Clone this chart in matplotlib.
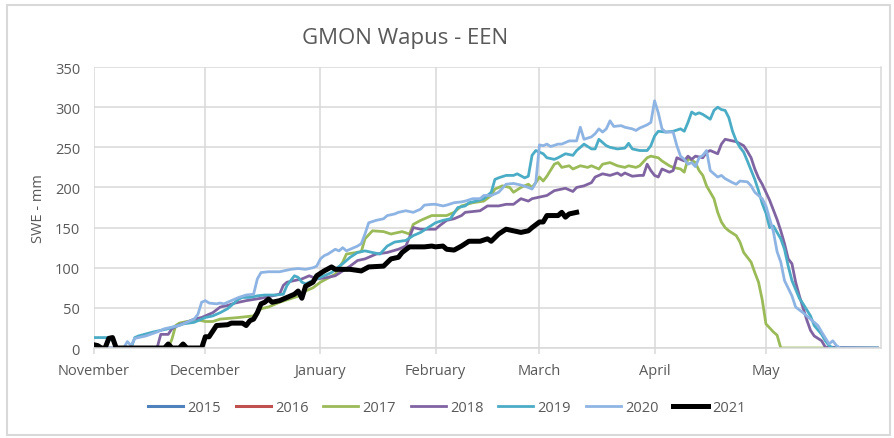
import matplotlib
matplotlib.use("Agg")
import matplotlib.pyplot as plt
from matplotlib import font_manager
from matplotlib.patches import Rectangle

# Season axis: day 0 = 1 November, day 212 = 1 June
month_days = [0, 30, 61, 92, 120, 151, 181]
month_labels = ["November", "December", "January", "February", "March", "April", "May"]
season_end = 212

years = ["2015", "2016", "2017", "2018", "2019", "2020", "2021"]

# 2015 and 2016 have no data at this site (legend only)
days_2015, swe_2015 = [], []
days_2016, swe_2016 = [], []

days_2017 = [0, 20, 21, 22, 23, 25, 28, 30, 32, 34, 39, 43, 45, 47, 50, 54, 56, 57, 59, 61,
             63, 65, 66, 67, 68, 72, 73, 75, 78, 80, 83, 85, 86, 88, 91, 95, 97, 99, 102, 105,
             107, 108, 110, 112, 113, 115, 117, 118, 119, 120, 121, 122, 124, 125, 126, 128, 129, 131, 133, 134,
             136, 137, 139, 141, 143, 144, 146, 147, 149, 150, 152, 153, 155, 156, 158, 159, 160, 161, 162, 163,
             164, 165, 167, 168, 169, 170, 171, 173, 174, 175, 177, 178, 179, 180, 181, 183, 184, 185, 211]
swe_2017 = [0, 0, 11, 28, 31, 33, 35, 33, 33, 36, 38, 40, 49, 51, 57, 63, 66, 71, 75, 82,
            87, 92, 100, 107, 117, 120, 136, 146, 145, 142, 145, 142, 154, 159, 165, 165, 169, 177, 181, 183,
            190, 198, 202, 200, 194, 200, 204, 200, 206, 213, 208, 214, 229, 231, 225, 227, 223, 227, 225, 227,
            223, 229, 231, 227, 225, 227, 225, 227, 237, 239, 237, 233, 227, 225, 223, 219, 236, 234, 231, 221,
            215, 202, 186, 169, 157, 150, 146, 140, 132, 119, 107, 94, 82, 60, 30, 20, 16, 0, 0]

days_2018 = [0, 17, 18, 20, 21, 23, 25, 27, 29, 30, 32, 34, 36, 38, 41, 45, 48, 50, 51, 52,
             56, 58, 60, 63, 65, 67, 69, 71, 73, 74, 76, 79, 82, 84, 85, 86, 88, 92, 93, 95,
             97, 99, 100, 104, 106, 109, 111, 113, 115, 117, 118, 120, 122, 124, 125, 127, 129, 130, 132, 134,
             135, 137, 139, 141, 142, 143, 145, 147, 148, 149, 150, 151, 152, 153, 155, 156, 157, 159, 160, 161,
             162, 164, 165, 166, 168, 169, 170, 172, 173, 175, 176, 177, 178, 179, 180, 181, 182, 183, 184, 185,
             186, 187, 188, 189, 190, 191, 192, 193, 194, 196, 197, 211]
swe_2018 = [0, 0, 17, 17, 24, 29, 32, 36, 38, 40, 44, 51, 53, 56, 59, 62, 65, 67, 78, 82,
            86, 90, 86, 88, 90, 96, 102, 109, 111, 113, 117, 119, 123, 127, 138, 150, 148, 148, 152, 159,
            161, 165, 169, 171, 177, 177, 179, 179, 186, 183, 186, 188, 190, 196, 197, 199, 195, 200, 202, 206,
            213, 217, 215, 218, 215, 218, 214, 215, 215, 229, 221, 215, 213, 223, 219, 221, 237, 233, 239, 235,
            239, 237, 244, 246, 242, 254, 260, 258, 257, 252, 245, 237, 223, 212, 204, 194, 184, 172, 160, 146,
            130, 111, 105, 82, 65, 50, 35, 22, 15, 9, 1, 0]

days_2019 = [0, 4, 5, 6, 10, 11, 12, 16, 20, 24, 27, 29, 30, 32, 34, 36, 37, 38, 39, 40,
             42, 44, 46, 49, 51, 52, 54, 55, 56, 57, 59, 61, 62, 64, 65, 67, 69, 71, 73, 75,
             77, 79, 81, 84, 86, 88, 90, 92, 94, 96, 98, 100, 101, 103, 105, 106, 107, 108, 109, 111,
             113, 114, 116, 117, 118, 119, 121, 122, 124, 125, 127, 129, 130, 132, 134, 135, 136, 138, 139, 141,
             143, 144, 145, 147, 149, 150, 151, 152, 154, 156, 158, 159, 160, 161, 162, 163, 164, 166, 167, 168,
             169, 170, 171, 172, 173, 174, 175, 176, 178, 179, 180, 181, 182, 183, 185, 186, 187, 188, 190, 191,
             193, 194, 196, 197, 198, 199, 211]
swe_2019 = [13, 13, 10, 0, 0, 13, 15, 20, 24, 30, 32, 36, 38, 40, 44, 49, 53, 57, 61, 63,
            63, 65, 66, 66, 67, 78, 90, 88, 82, 80, 84, 88, 90, 94, 98, 105, 113, 119, 121, 119,
            117, 127, 132, 134, 140, 144, 150, 156, 159, 161, 175, 177, 181, 183, 186, 190, 194, 210, 212, 215,
            215, 217, 212, 214, 240, 246, 242, 237, 235, 237, 242, 240, 246, 254, 248, 248, 260, 252, 250, 248,
            249, 255, 248, 246, 246, 252, 264, 270, 269, 270, 273, 270, 281, 294, 291, 293, 291, 285, 296, 300,
            297, 296, 287, 270, 258, 250, 244, 233, 210, 196, 180, 168, 150, 152, 136, 123, 102, 84, 62, 55,
            40, 28, 17, 9, 3, 0, 0]

days_2020 = [0, 8, 9, 10, 11, 14, 17, 19, 21, 23, 25, 27, 28, 29, 30, 31, 33, 34, 35, 37,
             38, 39, 41, 43, 44, 45, 47, 50, 51, 53, 55, 57, 59, 60, 61, 62, 63, 65, 66, 67,
             68, 70, 71, 72, 73, 74, 76, 78, 79, 81, 82, 84, 86, 88, 89, 91, 92, 94, 95, 97,
             99, 100, 102, 104, 105, 107, 109, 111, 113, 115, 117, 118, 119, 120, 121, 122, 123, 125, 126, 128,
             130, 131, 132, 134, 135, 136, 137, 138, 139, 140, 142, 143, 145, 146, 147, 149, 150, 151, 152, 153,
             154, 156, 157, 158, 159, 160, 161, 162, 163, 164, 165, 166, 168, 169, 170, 172, 173, 174, 176, 177,
             178, 180, 181, 182, 183, 184, 185, 186, 188, 189, 191, 193, 195, 196, 198, 199, 200, 201, 211]
swe_2020 = [0, 0, 8, 3, 12, 15, 20, 24, 26, 28, 32, 36, 42, 57, 59, 56, 55, 56, 55, 59,
            61, 63, 66, 67, 86, 94, 95, 95, 96, 98, 99, 98, 100, 102, 111, 115, 117, 123, 121, 125,
            121, 125, 127, 130, 142, 156, 159, 161, 165, 167, 169, 171, 169, 173, 178, 179, 179, 177, 178, 181,
            182, 183, 186, 186, 190, 190, 194, 204, 205, 203, 200, 198, 206, 253, 252, 254, 251, 254, 254, 258,
            258, 275, 260, 263, 267, 273, 269, 273, 283, 276, 277, 275, 273, 271, 274, 278, 281, 308, 293, 273,
            269, 269, 252, 239, 235, 229, 231, 226, 237, 240, 246, 221, 213, 215, 211, 206, 204, 208, 207, 202,
            194, 186, 177, 161, 145, 120, 107, 84, 65, 51, 44, 36, 28, 20, 5, 9, 3, 0, 0]

days_2021 = [0, 1, 2, 3, 4, 5, 6, 19, 20, 21, 23, 24, 25, 29, 30, 31, 32, 33, 36, 37,
             40, 41, 42, 43, 44, 45, 46, 47, 48, 50, 52, 54, 55, 56, 57, 59, 60, 62, 64, 65,
             69, 72, 74, 78, 80, 82, 83, 85, 89, 91, 92, 94, 95, 97, 99, 101, 104, 106, 107, 109,
             111, 113, 115, 117, 118, 120, 121, 122, 125, 126, 127, 128, 130]
swe_2021 = [4, 3, 0, 0, 12, 13, 0, 0, 5, 0, 0, 5, 0, 0, 14, 14, 21, 28, 29, 31,
            31, 28, 34, 36, 44, 55, 57, 61, 57, 59, 63, 67, 71, 62, 77, 82, 90, 96, 101, 98,
            98, 96, 101, 102, 111, 113, 119, 126, 126, 127, 126, 127, 123, 122, 127, 133, 133, 136, 133, 142,
            148, 146, 144, 146, 150, 157, 157, 165, 165, 169, 163, 167, 169]

series_days = [days_2015, days_2016, days_2017, days_2018, days_2019, days_2020, days_2021]
series_swe = [swe_2015, swe_2016, swe_2017, swe_2018, swe_2019, swe_2020, swe_2021]
colors = ["#4F81BD", "#C0504D", "#9BBB59", "#8064A2", "#4BACC6", "#8EB4E3", "#000000"]
widths = [2.2, 2.2, 2.0, 2.0, 2.0, 2.0, 3.6]

names = {f.name for f in font_manager.fontManager.ttflist}
FONT = next((f for f in ["Liberation Sans Narrow", "Open Sans", "DejaVu Sans"] if f in names), "DejaVu Sans")
plt.rcParams["font.family"] = FONT

TXT = "#595959"
GRID = "#D9D9D9"

fig = plt.figure(figsize=(8.94, 4.39), dpi=100)
fig.patches.append(Rectangle((0.008, 0.007), 0.988, 0.98, transform=fig.transFigure,
                             fill=False, edgecolor=GRID, linewidth=1.5))

ax = fig.add_axes([0.1051, 0.205, 0.8804, 0.640])

for yr, d, v, c, w in zip(years, series_days, series_swe, colors, widths):
    ax.plot(d, v, color=c, linewidth=w, label=yr, solid_joinstyle="round")

ax.set_xlim(0, season_end)
ax.set_ylim(0, 350)
ax.set_yticks(range(0, 351, 50))
ax.set_xticks(month_days)
ax.set_xticklabels(month_labels)
ax.grid(True, color=GRID, linewidth=1.1)
ax.set_axisbelow(True)

for side in ["top", "left"]:
    ax.spines[side].set_visible(False)
for side in ["bottom", "right"]:
    ax.spines[side].set_color(GRID)
    ax.spines[side].set_linewidth(1.1)

ax.tick_params(axis="y", length=0, pad=10, labelsize=10.5, labelcolor=TXT)
ax.tick_params(axis="x", length=4, width=1.1, color=GRID, pad=7, labelsize=10.5, labelcolor=TXT)

ax.set_ylabel("SWE - mm", fontsize=10.5, color=TXT, labelpad=6)
fig.text(0.453, 0.913, "GMON Wapus - EEN", fontsize=16, color=TXT, ha="center", va="center")

fig.legend(loc="center", bbox_to_anchor=(0.5, 0.07), ncol=7, frameon=False,
           fontsize=10.5, handlelength=2.4, handletextpad=0.3, columnspacing=1.0,
           labelcolor=TXT)

fig.savefig("out.png", dpi=100)
